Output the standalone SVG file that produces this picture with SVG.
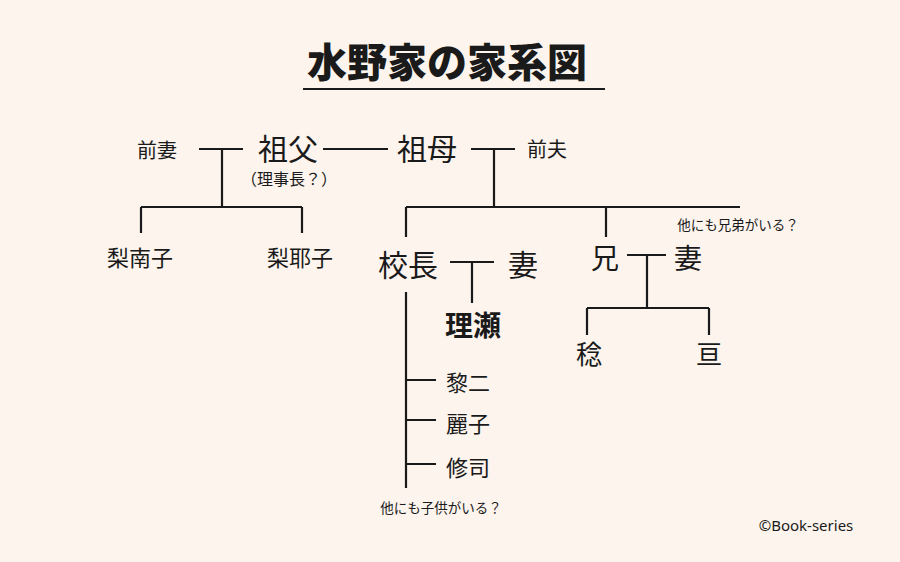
<svg xmlns="http://www.w3.org/2000/svg" width="900" height="562" viewBox="0 0 900 562">
<style>
.t{font-family:"Noto Sans CJK JP","Noto Sans",sans-serif;fill:#1a1a1a;text-anchor:middle}
.b{font-weight:700}
.ln{stroke:#1a1a1a;stroke-width:2.2;fill:none;stroke-linecap:butt}
</style>
<rect width="900" height="562" fill="#fcf4ed"/>
<g id="title">
<text class="t" x="447" y="77" font-size="40" font-weight="900">水野家の家系図</text>
<line x1="303" y1="89" x2="605" y2="89" stroke="#1a1a1a" stroke-width="2"/>
</g>
<g id="connectors" class="ln">
<path d="M199 149H243M222 149V207M141 207H302M141 207V233M302 207V233"/>
<path d="M323 149H388"/>
<path d="M471 149H515M494 149V207M406 207H740M406 207V237M606 207V237"/>
<path d="M450 262H494M472 262V303"/>
<path d="M627 255H666M647 255V308M587 308H709M587 308V335M709 308V335"/>
<path d="M406 292V488M406 380H436M406 420H436M406 464H436"/>
</g>
<g id="n-zenzai"><text class="t" x="157" y="157.5" font-size="20">前妻</text></g>
<g id="n-sofu"><text class="t" x="288" y="160" font-size="30">祖父</text>
<text class="t" x="289" y="185" font-size="16">（理事長？）</text></g>
<g id="n-sobo"><text class="t" x="427" y="160" font-size="30">祖母</text></g>
<g id="n-zenpu"><text class="t" x="547" y="157" font-size="20">前夫</text></g>
<g id="n-rinako"><text class="t" x="140" y="266" font-size="22">梨南子</text></g>
<g id="n-riyako"><text class="t" x="300" y="266" font-size="22">梨耶子</text></g>
<g id="note-siblings"><text class="t" x="738" y="230" font-size="13.5">他にも兄弟がいる？</text></g>
<g id="n-kocho"><text class="t" x="408" y="276" font-size="30">校長</text></g>
<g id="n-tsuma1"><text class="t" x="523" y="276" font-size="30">妻</text></g>
<g id="n-rise"><text class="t b" x="473" y="336" font-size="28">理瀬</text></g>
<g id="n-ani"><text class="t" x="605" y="268.5" font-size="28">兄</text></g>
<g id="n-tsuma2"><text class="t" x="688" y="268.5" font-size="28">妻</text></g>
<g id="n-minoru"><text class="t" x="589" y="363.5" font-size="26">稔</text></g>
<g id="n-wataru"><text class="t" x="709" y="363.5" font-size="26">亘</text></g>
<g id="n-reiji"><text class="t" x="468" y="391" font-size="22">黎二</text></g>
<g id="n-reiko"><text class="t" x="468" y="432" font-size="22">麗子</text></g>
<g id="n-shuji"><text class="t" x="468" y="476" font-size="22">修司</text></g>
<g id="note-children"><text class="t" x="441" y="512.5" font-size="13.5">他にも子供がいる？</text></g>
<g id="credit"><text class="t" x="806" y="531" font-size="15" style="font-family:'Noto Sans',sans-serif">©Book-series</text></g>
</svg>
